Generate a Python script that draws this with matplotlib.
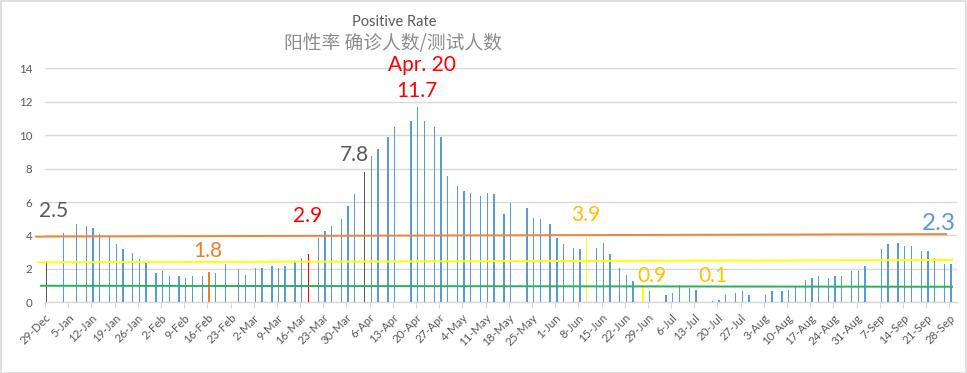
import matplotlib
matplotlib.use('Agg')
import matplotlib.pyplot as plt
import numpy as np
from matplotlib.patches import Rectangle

# ---------------- data ----------------
# day offsets counted from 29-Dec
days = [0, 5, 9, 12, 14, 16, 19, 21, 23, 26, 28, 30,
        33, 35, 37, 40, 42, 44, 47, 49, 51, 54, 58, 60, 63, 65,
        68, 70, 72, 75, 77, 79, 82, 84, 86, 89, 91, 93, 96, 98, 100,
        103, 105, 110, 112, 114, 117, 119, 121, 124, 126, 128, 131, 133, 135,
        138, 140, 145, 147, 149, 152, 154, 156, 159, 161, 163, 166, 168, 170,
        173, 175, 177, 180, 182, 187, 189, 191, 194, 196, 198, 201, 203, 205,
        208, 210, 212, 217, 219, 222, 224, 226, 229, 231, 233, 236, 238, 240,
        243, 245, 247, 252, 254, 257, 259, 261, 264, 266, 268, 271, 273]
values = [2.5, 4.15, 4.69, 4.57, 4.45, 4.09, 3.93, 3.49, 3.19, 2.95, 2.59, 2.37,
          1.75, 1.87, 1.57, 1.57, 1.45, 1.57, 1.57, 1.8, 1.75, 2.29, 1.99, 1.63, 2.05, 2.05,
          2.17, 2.05, 2.17, 2.47, 2.65, 2.9, 3.85, 4.27, 4.57, 4.99, 5.77, 6.49, 7.8, 8.76, 9.17,
          9.89, 10.49, 10.85, 11.7, 10.85, 10.49, 9.89, 7.56, 6.96, 6.66, 6.54, 6.36, 6.54, 6.48,
          5.28, 5.94, 5.64, 5.04, 4.98, 4.68, 3.84, 3.49, 3.25, 3.19, 3.9, 3.25, 3.55, 2.89,
          2.05, 1.63, 1.27, 0.9, 0.67, 0.43, 0.55, 1.03, 0.85, 0.73, 0.1, 0.08, 0.14, 0.43,
          0.55, 0.67, 0.43, 0.43, 0.67, 0.67, 0.73, 0.97, 1.33, 1.45, 1.57, 1.45, 1.57, 1.57,
          1.87, 1.87, 2.17, 3.19, 3.49, 3.55, 3.37, 3.37, 3.07, 3.07, 2.65, 2.29, 2.3]

tick_labels = ['29-Dec', '5-Jan', '12-Jan', '19-Jan', '26-Jan', '2-Feb', '9-Feb', '16-Feb',
               '23-Feb', '2-Mar', '9-Mar', '16-Mar', '23-Mar', '30-Mar', '6-Apr', '13-Apr',
               '20-Apr', '27-Apr', '4-May', '11-May', '18-May', '25-May', '1-Jun', '8-Jun',
               '15-Jun', '22-Jun', '29-Jun', '6-Jul', '13-Jul', '20-Jul', '27-Jul', '3-Aug',
               '10-Aug', '17-Aug', '24-Aug', '31-Aug', '7-Sep', '14-Sep', '21-Sep', '28-Sep']

# highlighted bars (day -> colour)
highlight = {0: '#595959', 49: '#ED7D31', 79: '#FF0000', 96: '#595959',
             163: '#FFFF00', 180: '#FFFF00', 198: '#FFFF00'}

# reference lines: (x_start_day, x_end_day, y_start, y_end, colour)
ref_lines = [(-3.0, 272.3, 3.93, 4.08, '#EE8540'),
             (-2.1, 274.1, 2.39, 2.53, '#FFFF00'),
             (-1.5, 274.1, 0.99, 0.93, '#22B455')]

# annotations: (text, day, value, colour, size)
notes = [('2.5', 2.7, 5.46, '#595959', 15),
         ('1.8', 49.2, 3.07, '#ED7D31', 15),
         ('2.9', 79.4, 5.19, '#FF0000', 15),
         ('7.8', 93.3, 8.81, '#595959', 15),
         ('Apr. 20', 113.8, 14.2, '#FF0000', 15),
         ('11.7', 112.3, 12.64, '#FF0000', 15),
         ('3.9', 163.3, 5.22, '#FFC000', 15),
         ('0.9', 183.2, 1.57, '#FFC000', 15),
         ('0.1', 201.7, 1.57, '#FFC000', 15),
         ('2.3', 269.9, 4.74, '#5B9BD5', 17.5)]

# ---------------- plot ----------------
plt.rcParams['font.family'] = ['Lato', 'DejaVu Sans']
W, H = 967, 373
fig = plt.figure(figsize=(W / 100, H / 100), dpi=100)
fig.patch.set_facecolor('white')

left, right, bottom, top = 45, 957, 302.3, 68.3
ax = fig.add_axes([left / W, 1 - bottom / H, (right - left) / W, (bottom - top) / H])

colors = [highlight.get(d, '#5B9BD5') for d in days]
ax.bar(np.array(days) + 0.5, values, width=0.42, color=colors, zorder=2, linewidth=0)

for x0, x1, y0, y1, c in ref_lines:
    ax.plot([x0, x1], [y0, y1], color=c, lw=1.4, zorder=3, clip_on=False,
            solid_capstyle='butt')

for txt, x, y, c, s in notes:
    ax.text(x, y, txt, color=c, fontsize=s, ha='center', va='center', zorder=4)

ax.set_xlim(0, 275.3)
ax.set_ylim(0, 14)
ax.set_yticks(np.arange(0, 15, 2))
ax.set_xticks(np.arange(len(tick_labels)) * 7)
ax.set_xticklabels(tick_labels, rotation=45, ha='right', va='top',
                   rotation_mode='anchor', fontsize=8.3, color='#595959')
ax.tick_params(axis='y', length=0, pad=9, labelsize=8.3, labelcolor='#595959')
ax.tick_params(axis='x', length=4, width=0.8, color='#D9D9D9', pad=3)
ax.grid(axis='y', color='#D9D9D9', lw=1, zorder=0)
ax.set_axisbelow(True)
for s in ['top', 'right', 'left']:
    ax.spines[s].set_visible(False)
ax.spines['bottom'].set_color('#D9D9D9')
ax.spines['bottom'].set_linewidth(1)
ax.spines['bottom'].set_zorder(1)

fig.text(394 / W, 1 - 22 / H, 'Positive Rate', ha='center', va='center',
         fontsize=10.5, color='#595959')
fig.text(393 / W, 1 - 43 / H, '阳性率 确诊人数/测试人数', ha='center', va='center',
         fontsize=13.5, color='#8C8C8C', family=['Noto Sans CJK SC', 'DejaVu Sans'])

fig.add_artist(Rectangle((0.5 / W, 0.5 / H), 1 - 1.5 / W, 1 - 1.5 / H,
                         transform=fig.transFigure, fill=False,
                         ec='#D9D9D9', lw=1.2))

fig.savefig('out.png', dpi=100)
